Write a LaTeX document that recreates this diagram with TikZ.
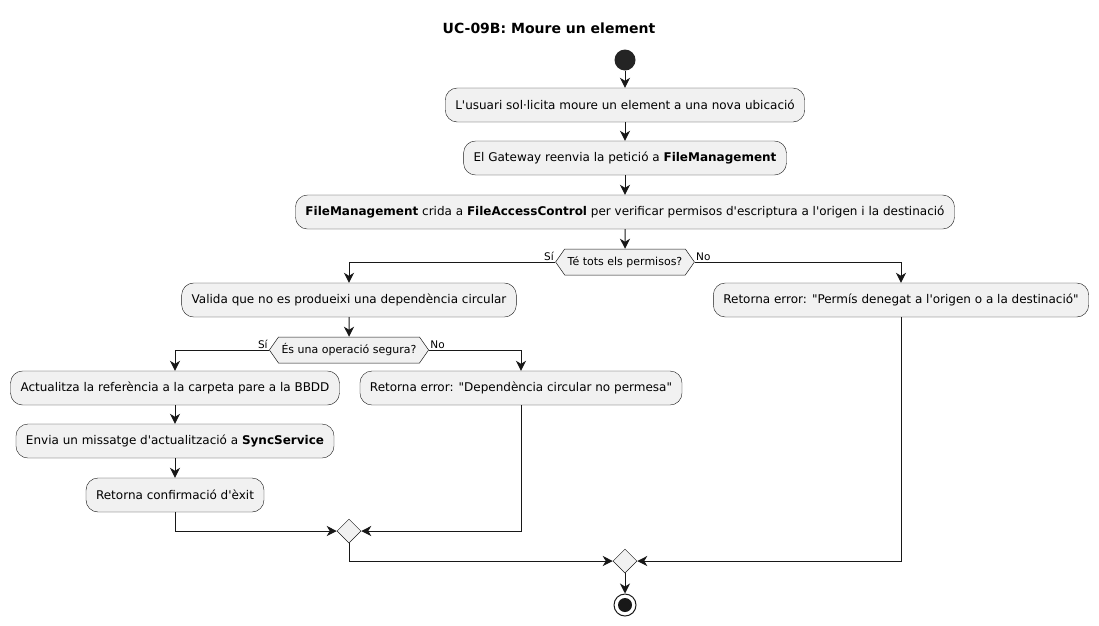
\documentclass[tikz,border=0pt]{standalone}
\usepackage{fontspec}
\setmainfont{DejaVu Sans}[Ligatures=TeXOff]
\usepackage{tikz}
\usetikzlibrary{positioning,shapes.geometric,shapes.symbols,arrows.meta}

\definecolor{boxfill}{HTML}{F1F1F1}
\definecolor{ink}{HTML}{181818}

\begin{document}
\begin{tikzpicture}[x=1pt,y=-1pt,on grid,auto,font=\fontsize{12}{14}\selectfont]
      \tikzset{act/.style={draw=ink,fill=boxfill,rectangle,rounded corners=12pt,minimum height=34pt,inner xsep=10pt}}
      \tikzset{choice/.style={draw=ink,fill=boxfill,signal,signal to=east and west,signal pointer angle=110,minimum height=26pt,inner xsep=3pt,inner ysep=0pt,line width=0.5pt,font=\fontsize{11}{13}\selectfont}}
      \tikzset{merge/.style={draw=ink,fill=boxfill,diamond,minimum width=24pt,minimum height=24pt,inner sep=0pt,line width=0.5pt}}
      \tikzset{flow/.style={draw=ink,line width=1pt,-{Stealth[length=10pt,width=10pt,inset=3pt]}}}
      \tikzset{lbl/.style={font=\fontsize{10.5}{12}\selectfont,inner sep=1pt}}
      \useasboundingbox (0,0) rectangle (1099,625);

      \node[font=\fontsize{14}{16}\selectfont\bfseries] (title) at (549,28) {UC-09B: Moure un element};

      \node[circle,fill=ink!95,minimum size=21pt,inner sep=0pt] (start) at (625,60) {};
      \node[act] (ask) [below = 45pt of start] {L'usuari sol·licita moure un element a una nova ubicació};
      \node[act] (fwd) [below = 53pt of ask] {El Gateway reenvia la petició a \textbf{FileManagement}};
      \node[act] (chk) [below = 54pt of fwd] {\textbf{FileManagement} crida a \textbf{FileAccessControl} per verificar permisos d'escriptura a l'origen i la destinació};
      \node[choice] (perm) [below = 50pt of chk] {Té tots els permisos?};

      \node[act] (valid) at (349,300) {Valida que no es produeixi una dependència circular};
      \node[act] (deny) at (901,300) {Retorna error: "Permís denegat a l'origen o a la destinació"};
      \node[choice] (safe) [below = 50pt of valid] {És una operació segura?};

      \node[act] (upd) at (175,388) {Actualitza la referència a la carpeta pare a la BBDD};
      \node[act] (circ) at (521,388) {Retorna error: "Dependència circular no permesa"};
      \node[act] (sync) [below = 53pt of upd] {Envia un missatge d'actualització a \textbf{SyncService}};
      \node[act] (ok) [below = 54pt of sync] {Retorna confirmació d'èxit};

      \node[merge] (merge1) at (349,531) {};
      \node[merge] (merge2) at (625,561) {};
      \node[circle,draw=ink,line width=1pt,minimum size=22pt,inner sep=0pt] (stop) at (625,605) {};
      \node[circle,fill=ink,minimum size=14pt,inner sep=0pt] (stopdot) at (stop) {};

      \draw[flow] (start) -- (ask);
      \draw[flow] (ask) -- (fwd);
      \draw[flow] (fwd) -- (chk);
      \draw[flow] (chk) -- (perm);
      \draw[flow] (perm.west) node[lbl,above left] {Sí} -| (valid.north);
      \draw[flow] (perm.east) node[lbl,above right] {No} -| (deny.north);
      \draw[flow] (valid) -- (safe);
      \draw[flow] (safe.west) node[lbl,above left] {Sí} -| (upd.north);
      \draw[flow] (safe.east) node[lbl,above right] {No} -| (circ.north);
      \draw[flow] (upd) -- (sync);
      \draw[flow] (sync) -- (ok);
      \draw[flow] (ok.south) |- (merge1.west);
      \draw[flow] (circ.south) |- (merge1.east);
      \draw[flow] (merge1.south) |- (merge2.west);
      \draw[flow] (deny.south) |- (merge2.east);
      \draw[flow] (merge2) -- (stop);
    \end{tikzpicture}
\end{document}
